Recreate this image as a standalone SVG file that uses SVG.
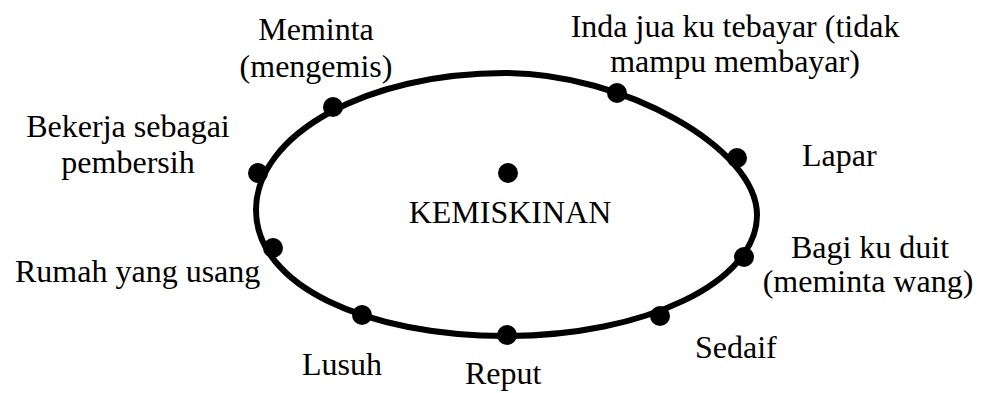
<svg xmlns="http://www.w3.org/2000/svg" width="982" height="393" viewBox="0 0 982 393">
<style>
text{font-family:"Liberation Serif","Times New Roman","DejaVu Serif",serif;font-size:32px;fill:#000}
.m{text-anchor:middle}
.dot{fill:#000}
.ring{fill:none;stroke:#000;stroke-width:6}
</style>
<rect width="982" height="393" fill="#fff"/>
<g id="connectors">
<path class="ring" d="M256,210 C256,134 367,73 505,73 C623,73 757,148 757,215 C757,282 645,336 506,336 C367,336 256,286 256,210 Z"/>
</g>
<g id="kemiskinan"><circle class="dot" cx="508" cy="173" r="10"/><text class="m" x="510" y="223">KEMISKINAN</text></g>
<g id="meminta"><circle class="dot" cx="333" cy="107" r="10"/><text class="m" x="316" y="40">Meminta</text><text class="m" x="316" y="77">(mengemis)</text></g>
<g id="inda"><circle class="dot" cx="617" cy="93" r="10"/><text class="m" x="735" y="37">Inda jua ku tebayar (tidak</text><text class="m" x="735" y="72">mampu membayar)</text></g>
<g id="lapar"><circle class="dot" cx="737" cy="158" r="10"/><text x="802" y="166">Lapar</text></g>
<g id="bagi"><circle class="dot" cx="744" cy="257" r="10"/><text class="m" x="870" y="258">Bagi ku duit</text><text class="m" x="868" y="292">(meminta wang)</text></g>
<g id="sedaif"><circle class="dot" cx="660" cy="316" r="10"/><text x="695" y="358">Sedaif</text></g>
<g id="reput"><circle class="dot" cx="507" cy="335" r="10"/><text x="465" y="384">Reput</text></g>
<g id="lusuh"><circle class="dot" cx="362" cy="315" r="10"/><text x="302" y="375">Lusuh</text></g>
<g id="rumah"><circle class="dot" cx="273" cy="248" r="10"/><text x="15" y="282">Rumah yang usang</text></g>
<g id="bekerja"><circle class="dot" cx="258" cy="173" r="10"/><text class="m" x="128" y="137">Bekerja sebagai</text><text class="m" x="128" y="173">pembersih</text></g>
</svg>
